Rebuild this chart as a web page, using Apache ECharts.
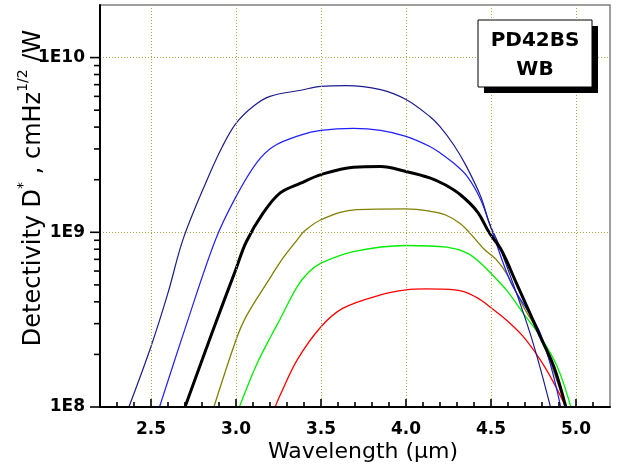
<!DOCTYPE html>
<html>
<head>
<meta charset="utf-8">
<script src="https://cdn.jsdelivr.net/npm/echarts@6/dist/echarts.min.js"></script>
<style>html,body{margin:0;padding:0;background:#fff;}#c{width:619px;height:472px;}</style>
</head>
<body>
<div id="c"></div>
<script>
// Tick values
const xMajor = [2.5, 3.0, 3.5, 4.0, 4.5, 5.0];
const xMinor = [2.3, 2.4, 2.6, 2.7, 2.8, 2.9, 3.1, 3.2, 3.3, 3.4, 3.6, 3.7, 3.8, 3.9, 4.1, 4.2, 4.3, 4.4, 4.6, 4.7, 4.8, 4.9, 5.1];
const yMajor = [1e8, 1e9, 1e10];
const yMinor = [2e8, 3e8, 4e8, 5e8, 6e8, 7e8, 8e8, 9e8, 2e9, 3e9, 4e9, 5e9, 6e9, 7e9, 8e9, 9e9];
const xMin = 2.2, xMax = 5.2, yMin = 1e8, yMax = 2e10;

// Series data: [wavelength (um), detectivity]
const navy = [[2.37,1.0e8],[2.5,2.22e8],[2.6,4.5e8],[2.69,9.2e8],[2.83,2.0e9],[2.92,3.1e9],[3.0,4.2e9],[3.1,5.25e9],[3.2,6.0e9],[3.38,6.5e9],[3.5,6.85e9],[3.65,6.92e9],[3.85,6.55e9],[4.0,5.75e9],[4.14,4.6e9],[4.2,4.02e9],[4.28,3.17e9],[4.35,2.44e9],[4.44,1.6e9],[4.49,1.13e9],[4.55,8.3e8],[4.73,2.64e8],[4.85,1.0e8]];
const blue = [[2.55,1.0e8],[2.71,3.0e8],[2.88,9.1e8],[3.0,1.6e9],[3.12,2.49e9],[3.22,3.1e9],[3.38,3.6e9],[3.5,3.83e9],[3.69,3.93e9],[3.85,3.83e9],[4.0,3.54e9],[4.14,3.1e9],[4.2,2.85e9],[4.28,2.49e9],[4.36,2.09e9],[4.44,1.53e9],[4.51,9.9e8],[4.62,5.1e8],[4.79,2.64e8],[4.91,1.0e8]];
const black = [[2.70,1.0e8],[2.87,2.84e8],[3.0,6.17e8],[3.06,8.8e8],[3.16,1.29e9],[3.26,1.68e9],[3.38,1.91e9],[3.5,2.14e9],[3.69,2.36e9],[3.85,2.38e9],[4.0,2.23e9],[4.14,2.05e9],[4.23,1.87e9],[4.32,1.64e9],[4.42,1.31e9],[4.49,9.93e8],[4.56,7.94e8],[4.65,5.1e8],[4.79,2.53e8],[4.87,1.7e8],[4.94,1.0e8]];
const olive = [[2.87,1.0e8],[3.0,2.42e8],[3.06,3.3e8],[3.18,5.1e8],[3.28,7.2e8],[3.36,9.06e8],[3.4,1.01e9],[3.5,1.18e9],[3.71,1.35e9],[4.0,1.36e9],[4.14,1.32e9],[4.23,1.26e9],[4.32,1.12e9],[4.38,9.8e8],[4.46,8.0e8],[4.53,7.0e8],[4.59,5.83e8],[4.69,3.76e8],[4.79,2.53e8],[4.94,1.0e8]];
const green = [[3.02,1.0e8],[3.12,1.74e8],[3.21,2.59e8],[3.26,3.19e8],[3.36,4.89e8],[3.43,5.94e8],[3.5,6.66e8],[3.69,7.76e8],[4.0,8.4e8],[4.24,8.22e8],[4.36,7.6e8],[4.44,6.66e8],[4.49,5.96e8],[4.59,4.68e8],[4.69,3.44e8],[4.79,2.53e8],[4.89,1.7e8],[4.97,1.0e8]];
const red = [[3.23,1.0e8],[3.26,1.17e8],[3.36,1.86e8],[3.5,2.88e8],[3.63,3.68e8],[3.85,4.38e8],[4.0,4.68e8],[4.12,4.74e8],[4.2,4.73e8],[4.34,4.58e8],[4.44,4.1e8],[4.49,3.76e8],[4.59,3.15e8],[4.69,2.53e8],[4.79,1.86e8],[4.87,1.37e8],[4.94,1.0e8]];

const FONT = 'DejaVu Sans';
const gridLine = { show: true, lineStyle: { color: '#a8a84a', width: 1, type: [1, 2] } };

function line(name, data, color, width) {
  return { name, type: 'line', data, xAxisIndex: 0, yAxisIndex: 0, showSymbol: false, symbol: 'none',
    smooth: 0.35, lineStyle: { color, width }, itemStyle: { color }, z: 3 };
}

// Tick marks drawn through the axes' own scales (api.coord)
function xTicks(values, len) {
  return { type: 'custom', coordinateSystem: 'cartesian2d', clip: false, silent: true, z: 6,
    data: values.map(v => [v, yMin]),
    renderItem: (params, api) => {
      const p = api.coord([api.value(0), api.value(1)]);
      return { type: 'line', shape: { x1: p[0], y1: p[1], x2: p[0], y2: p[1] - len }, style: { stroke: '#000', lineWidth: 1.6 } };
    } };
}
function yTicks(values, len) {
  return { type: 'custom', coordinateSystem: 'cartesian2d', clip: false, silent: true, z: 6,
    data: values.map(v => [xMin, v]),
    renderItem: (params, api) => {
      const p = api.coord([api.value(0), api.value(1)]);
      return { type: 'line', shape: { x1: p[0] - len, y1: p[1], x2: p[0], y2: p[1] }, style: { stroke: '#000', lineWidth: 1.6 } };
    } };
}

const chart = echarts.init(document.getElementById('c'), null, { renderer: 'canvas' });
chart.setOption({
  animation: false,
  backgroundColor: '#fff',
  grid: { left: 100, top: 5, right: 9, bottom: 65, show: true, borderColor: '#808080', borderWidth: 1.5,
    backgroundColor: 'transparent', containLabel: false, outerBoundsMode: 'none' },
  xAxis: {
    type: 'value', min: xMin, max: xMax, splitNumber: 6,
    name: 'Wavelength (μm)', nameLocation: 'middle', nameGap: 34, nameMoveOverlap: false,
    nameTextStyle: { fontFamily: FONT, fontSize: 22, color: '#000', padding: [0, 0, 0, 16] },
    axisLine: { show: true, onZero: false, lineStyle: { color: '#000', width: 2 } },
    axisTick: { show: false, customValues: xMajor },
    axisLabel: { show: true, customValues: xMajor, margin: 14, fontFamily: FONT, fontSize: 17, fontWeight: 'bold', color: '#000',
      formatter: v => v.toFixed(1) },
    splitLine: gridLine, z: 5
  },
  yAxis: {
    type: 'log', logBase: 10, min: yMin, max: yMax,
    name: '{pad| }{m|Detectivity D}{s|*}{m| , cmHz}{s|1/2}{m| /W}', nameLocation: 'middle', nameGap: 54, nameMoveOverlap: false,
    nameTextStyle: { fontFamily: FONT, color: '#000',
      rich: { pad: { width: 36, fontSize: 24, lineHeight: 30 },
              m: { fontFamily: FONT, fontSize: 24, color: '#000', lineHeight: 30, verticalAlign: 'bottom' },
              s: { fontFamily: FONT, fontSize: 14, color: '#000', lineHeight: 15, verticalAlign: 'top' } } },
    axisLine: { show: true, onZero: false, lineStyle: { color: '#000', width: 2 } },
    axisTick: { show: false, customValues: yMajor },
    axisLabel: { show: true, customValues: yMajor, margin: 15, fontFamily: FONT, fontSize: 17, fontWeight: 'bold', color: '#000',
      formatter: v => '1E' + Math.round(Math.log10(v)) },
    splitLine: gridLine, z: 5
  },
  series: [
    line('red', red, '#ff0000', 1.3),
    line('green', green, '#00ee00', 1.3),
    line('olive', olive, '#808000', 1.3),
    line('blue', blue, '#1f1fff', 1.2),
    line('navy', navy, '#1c1c8c', 1.2),
    line('black', black, '#000000', 3),
    xTicks(xMinor, 5),
    xTicks(xMajor, 8),
    yTicks(yMinor, 6),
    yTicks(yMajor, 10)
  ],
  graphic: [
    { type: 'rect', shape: { x: 484, y: 26, width: 114, height: 67 }, style: { fill: '#000' }, z: 10 },
    { type: 'rect', shape: { x: 478, y: 20, width: 114, height: 67 }, style: { fill: '#fff', stroke: '#000', lineWidth: 1 }, z: 11 },
    { type: 'text', x: 535, y: 55, z: 12,
      style: { text: 'PD42BS\nWB', fontFamily: FONT, fontSize: 20, fontWeight: 'bold', fill: '#000', align: 'center', verticalAlign: 'middle', lineHeight: 29 } }
  ]
});
</script>
</body>
</html>
